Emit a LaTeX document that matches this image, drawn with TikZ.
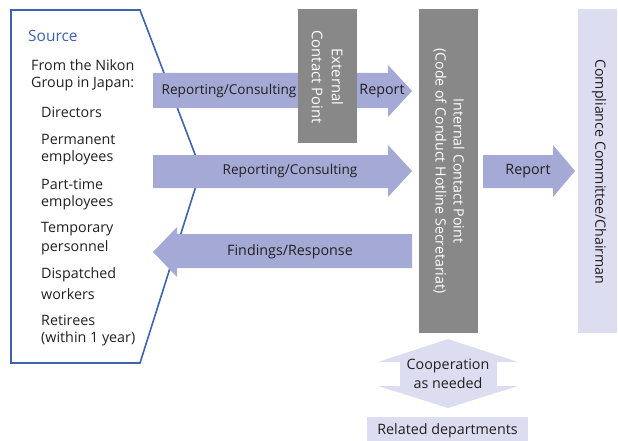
\documentclass[tikz,border=0pt]{standalone}
\usepackage{fontspec}
\setmainfont{Open Sans}
\definecolor{arrowc}{HTML}{A5A9D5}
\definecolor{grayc}{HTML}{888888}
\definecolor{lightc}{HTML}{DCDDF0}
\definecolor{srcblue}{HTML}{3F62AE}
\definecolor{txt}{HTML}{231F20}
\tikzset{
  lbl/.style={text=txt, font=\fontsize{14.3}{18}\selectfont, inner sep=0pt},
  graybox/.style={fill=grayc, draw=none},
  whitetxt/.style={text=white, align=center, rotate=-90, inner sep=0pt},
}
\begin{document}
\begin{tikzpicture}[x=1pt,y=-1pt]
\useasboundingbox (0,0) rectangle (618,441);
% Source outline
\draw[srcblue, line width=1.6pt, line join=miter] (11,10) -- (140,10) -- (201,170) -- (140,363) -- (11,363) -- cycle;
\node[anchor=west, text=srcblue, font=\fontsize{15.5}{18}\selectfont, inner sep=0pt] (src) at (28,36) {Source};
\node[lbl, anchor=west] (from1) at (31,65) {From the Nikon};
\node[lbl, anchor=west] (from2) at (31,84) {Group in Japan:};
\node[lbl, anchor=west] (dir) at (41,112) {Directors};
\node[lbl, anchor=west] (perm1) at (41,139) {Permanent};
\node[lbl, anchor=west] (perm2) at (41,158) {employees};
\node[lbl, anchor=west] (part1) at (41,184) {Part-time};
\node[lbl, anchor=west] (part2) at (41,203) {employees};
\node[lbl, anchor=west] (temp1) at (41,229) {Temporary};
\node[lbl, anchor=west] (temp2) at (41,248) {personnel};
\node[lbl, anchor=west] (disp1) at (41,275) {Dispatched};
\node[lbl, anchor=west] (disp2) at (41,294) {workers};
\node[lbl, anchor=west] (ret1) at (41,320) {Retirees};
\node[lbl, anchor=west] (ret2) at (41,339) {(within 1 year)};
% Arrows
\fill[arrowc] (153,73) -- (388,73) -- (388,65) -- (412,91) -- (388,117) -- (388,108) -- (153,108) -- cycle;
\fill[arrowc] (153,155) -- (388,155) -- (388,145) -- (412,171) -- (388,197) -- (388,188) -- (153,188) -- cycle;
\fill[arrowc] (412,234) -- (177,234) -- (177,227) -- (153,252) -- (177,277) -- (177,268) -- (412,268) -- cycle;
\fill[arrowc] (483,155) -- (553,155) -- (553,145) -- (575,171) -- (553,197) -- (553,188) -- (483,188) -- cycle;
% Boxes
\fill[graybox] (298,9) rectangle (357,143);
\node[whitetxt, font=\fontsize{14.8}{20}\selectfont] (ext) at (327.5,77) {External\\Contact Point};
\fill[graybox] (419,9) rectangle (478,333);
\node[whitetxt, font=\fontsize{14.2}{18}\selectfont] (int) at (449,171) {Internal Contact Point\\(Code of Conduct Hotline Secretariat)};
\fill[lightc] (578,9) rectangle (617,333);
\node[lbl, rotate=-90, font=\fontsize{14.2}{18}\selectfont] (comp) at (599,172) {Compliance Committee/Chairman};
% Arrow labels
\node[lbl, font=\fontsize{13.6}{18}\selectfont] (rc1) at (229,91) {Reporting/Consulting};
\node[lbl] (rep1) at (382,91) {Report};
\node[lbl, font=\fontsize{13.6}{18}\selectfont] (rc2) at (290,171) {Reporting/Consulting};
\node[lbl] (fr) at (290,252) {Findings/Response};
\node[lbl] (rep2) at (528,171) {Report};
% Cooperation double arrow
\fill[lightc] (448,339) -- (518,362) -- (497,362) -- (497,386) -- (518,386) -- (448,408) -- (378,386) -- (400,386) -- (400,362) -- (378,362) -- cycle;
\node[lbl, align=center, font=\fontsize{14.3}{19}\selectfont] (coop) at (448,374) {Cooperation\\as needed};
\fill[lightc] (367,417) rectangle (528,441);
\node[lbl] (rel) at (447.5,431) {Related departments};
\end{tikzpicture}
\end{document}
